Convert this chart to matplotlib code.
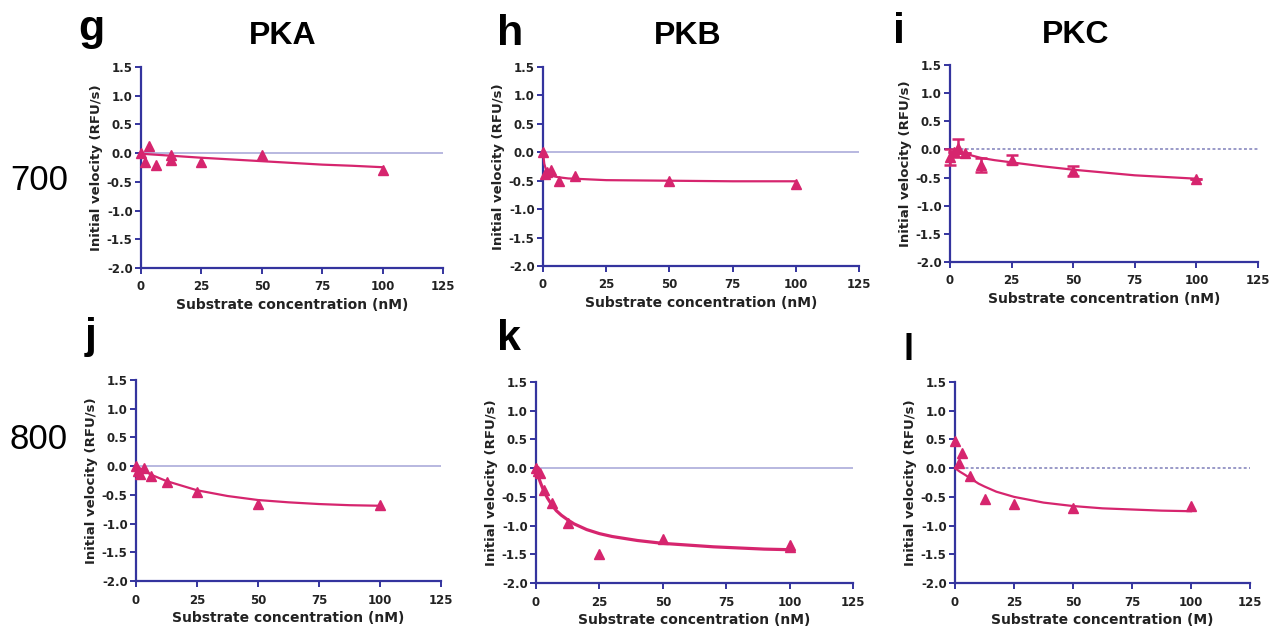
import matplotlib
matplotlib.use("Agg")
import matplotlib.pyplot as plt

# ---------------- data ----------------
# PKA 700 (panel g)
g_x = [0, 1.56, 3.125, 6.25, 12.5, 12.5, 25, 50, 100]
g_y = [0.0, -0.15, 0.12, -0.21, -0.04, -0.12, -0.15, -0.04, -0.29]
g_cx = [0, 12.5, 25, 37.5, 50, 62.5, 75, 87.5, 100]
g_cy = [-0.01, -0.045, -0.08, -0.11, -0.14, -0.17, -0.20, -0.22, -0.245]

# PKB 700 (panel h)
h_x = [0, 0.78, 1.56, 3.125, 6.25, 12.5, 50, 100]
h_y = [0.0, -0.38, -0.35, -0.32, -0.50, -0.42, -0.51, -0.55]
h_cx = [0, 0.5, 1, 2, 3, 4, 6.25, 10, 15, 25, 50, 75, 100]
h_cy = [0.0, -0.20, -0.28, -0.36, -0.40, -0.42, -0.44, -0.46, -0.47, -0.49, -0.50, -0.51, -0.51]

# PKC 700 (panel i) with error bars
i_x = [0, 1.56, 3.125, 6.25, 12.5, 25, 50, 100]
i_y = [-0.14, -0.05, 0.03, -0.07, -0.28, -0.18, -0.38, -0.53]
i_err = [0.14, 0.0, 0.16, 0.0, 0.12, 0.08, 0.09, 0.0]
i_cx = [0.5, 2, 4, 6.25, 9, 12.5, 18, 25, 37.5, 50, 62.5, 75, 87.5, 100]
i_cy = [-0.14, -0.10, -0.08, -0.08, -0.11, -0.15, -0.19, -0.23, -0.30, -0.36, -0.41, -0.46, -0.49, -0.52]

# PKA 800 (panel j)
j_x = [0, 0.78, 1.56, 3.125, 6.25, 12.5, 25, 50, 100]
j_y = [0.0, -0.08, -0.14, -0.04, -0.17, -0.27, -0.45, -0.66, -0.67]
j_cx = [0, 3, 6.25, 12.5, 25, 37.5, 50, 62.5, 75, 87.5, 100]
j_cy = [0.0, -0.07, -0.15, -0.26, -0.42, -0.52, -0.59, -0.63, -0.66, -0.68, -0.69]

# PKB 800 (panel k)
k_x = [0, 0.78, 1.56, 3.125, 6.25, 12.5, 25, 50, 100, 100]
k_y = [0.0, -0.05, -0.09, -0.38, -0.61, -0.96, -1.49, -1.24, -1.34, -1.38]
k_cx = [0, 1, 2, 3, 4.5, 6.25, 8, 10, 12.5, 15, 20, 25, 30, 40, 50, 60, 70, 80, 90, 100]
k_cy = [0.0, -0.16, -0.28, -0.39, -0.52, -0.64, -0.74, -0.82, -0.90, -0.97, -1.07, -1.14,
        -1.19, -1.26, -1.31, -1.34, -1.37, -1.39, -1.41, -1.42]

# PKC 800 (panel l)
l_x = [0, 1.56, 3.125, 6.25, 12.5, 25, 50, 100]
l_y = [0.48, 0.09, 0.27, -0.14, -0.54, -0.63, -0.70, -0.66]
l_cx = [0, 2, 4, 6.25, 10, 12.5, 17.5, 25, 37.5, 50, 62.5, 75, 87.5, 100]
l_cy = [0.0, -0.06, -0.11, -0.17, -0.27, -0.32, -0.41, -0.50, -0.60, -0.66, -0.70, -0.72, -0.74, -0.75]

x_ticks = [0, 25, 50, 75, 100, 125]
y_ticks = [-2.0, -1.5, -1.0, -0.5, 0.0, 0.5, 1.0, 1.5]
y_label = "Initial velocity (RFU/s)"
x_label_nM = "Substrate concentration (nM)"
x_label_M = "Substrate concentration (M)"
panel_letters = ["g", "h", "i", "j", "k", "l"]
col_titles = ["PKA", "PKB", "PKC"]
row_labels = ["700", "800"]

# ---------------- style ----------------
W, H = 1278, 631
SPINE = "#34349e"
RED = "#d6256e"
ZERO = "#b8b8e0"
TXT = "#222222"

fig = plt.figure(figsize=(W / 100, H / 100), dpi=100)
fig.patch.set_facecolor("white")


def px_axes(l, t, r, b):
    return fig.add_axes([l / W, 1 - b / H, (r - l) / W, (b - t) / H])


panels = [
    dict(box=(141, 67, 443, 268), x=g_x, y=g_y, cx=g_cx, cy=g_cy, err=None, dotted=False, lw=1.6, xl=x_label_nM),
    dict(box=(543, 67, 859, 266), x=h_x, y=h_y, cx=h_cx, cy=h_cy, err=None, dotted=False, lw=1.6, xl=x_label_nM),
    dict(box=(950, 65, 1258, 262), x=i_x, y=i_y, cx=i_cx, cy=i_cy, err=i_err, dotted=True, lw=1.6, xl=x_label_nM),
    dict(box=(136, 380, 441, 581), x=j_x, y=j_y, cx=j_cx, cy=j_cy, err=None, dotted=False, lw=1.6, xl=x_label_nM),
    dict(box=(536, 382, 853, 583), x=k_x, y=k_y, cx=k_cx, cy=k_cy, err=None, dotted=False, lw=2.3, xl=x_label_nM),
    dict(box=(955, 382, 1250, 583), x=l_x, y=l_y, cx=l_cx, cy=l_cy, err=None, dotted=True, lw=1.6, xl=x_label_M),
]

for p in panels:
    ax = px_axes(*p["box"])
    ax.set_xlim(0, 125)
    ax.set_ylim(-2.0, 1.5)
    for s in ["top", "right"]:
        ax.spines[s].set_visible(False)
    for s in ["left", "bottom"]:
        ax.spines[s].set_color(SPINE)
        ax.spines[s].set_linewidth(1.6)
    ax.set_xticks(x_ticks)
    ax.set_yticks(y_ticks)
    ax.set_xticklabels([str(t) for t in x_ticks])
    ax.set_yticklabels(["%.1f" % t for t in y_ticks])
    ax.tick_params(axis="both", direction="out", length=4, width=1.4, color=SPINE,
                   labelsize=8.5, labelcolor=TXT)
    ax.tick_params(axis="x", pad=5)
    ax.tick_params(axis="y", pad=2)
    for lab in ax.get_xticklabels() + ax.get_yticklabels():
        lab.set_fontweight("bold")
        lab.set_family("DejaVu Sans")
    if p["dotted"]:
        ax.axhline(0, color="#9a9ac8", lw=1.4, ls=(0, (1.5, 1.2)), zorder=1)
    else:
        ax.axhline(0, color=ZERO, lw=1.4, zorder=1)
    ax.plot(p["cx"], p["cy"], color=RED, lw=p["lw"], zorder=3, clip_on=False)
    if p["err"] is not None:
        ax.errorbar(p["x"], p["y"], yerr=p["err"], fmt="^", color=RED, ms=6.5,
                    elinewidth=1.8, capsize=4, capthick=1.8, zorder=4, clip_on=False)
    else:
        ax.plot(p["x"], p["y"], "^", color=RED, ms=6.5, zorder=4, clip_on=False)
    ax.set_ylabel(y_label, fontsize=9.5, fontweight="bold", color=TXT, labelpad=3,
                  family="DejaVu Sans")
    ax.set_xlabel(p["xl"], fontsize=10, fontweight="bold", color=TXT, labelpad=3,
                  family="DejaVu Sans")

# panel letters
letter_pos = [(78, 40, 31), (497, 45, 31), (893, 43, 31), (85, 348, 31), (497, 350, 31), (903, 360, 26)]
for L, (x, y, fs) in zip(panel_letters, letter_pos):
    fig.text(x / W, 1 - y / H, L, fontsize=fs, fontweight="bold", family="Liberation Sans",
             ha="left", va="baseline", color="black")

title_pos = [(283, 44), (688, 44), (1076, 43)]
for t, (x, y) in zip(col_titles, title_pos):
    fig.text(x / W, 1 - y / H, t, fontsize=23, fontweight="bold", family="Liberation Sans",
             ha="center", va="baseline", color="black")

row_pos = [(39, 190), (39, 449)]
for t, (x, y) in zip(row_labels, row_pos):
    fig.text(x / W, 1 - y / H, t, fontsize=25, family="Liberation Sans",
             ha="center", va="baseline", color="black")

fig.savefig("out.png", dpi=100, facecolor="white")
